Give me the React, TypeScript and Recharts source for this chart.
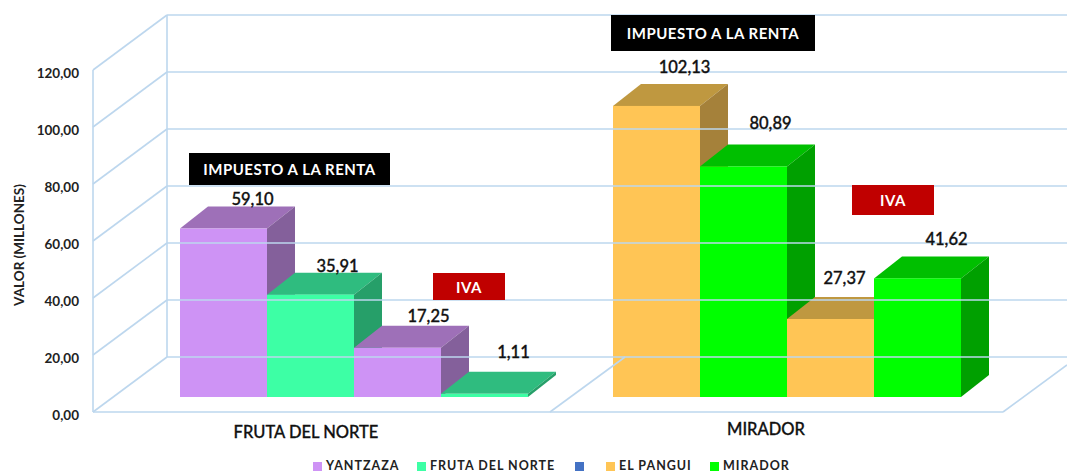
import React from "react";
import { BarChart, Bar, XAxis, YAxis, Legend, LabelList } from "recharts";

const categories = ["FRUTA DEL NORTE", "MIRADOR"];
const rentaFirst = [59.1, 102.13];
const rentaSecond = [35.91, 80.89];
const ivaFirst = [17.25, 27.37];
const ivaSecond = [1.11, 41.62];
const yTicks = [0, 20, 40, 60, 80, 100, 120];
const legendNames = ["YANTZAZA", "FRUTA DEL NORTE", "", "EL PANGUI", "MIRADOR"];
const legendColors = ["#CE93F5", "#3DFFA5", "#4472C4", "#FFC555", "#00FF00"];

const rows = categories.map((name, i) => ({
  name,
  rentaFirst: rentaFirst[i],
  rentaSecond: rentaSecond[i],
  ivaFirst: ivaFirst[i],
  ivaSecond: ivaSecond[i],
}));

const GRID = "#BDD7EE";
const W = 1067;
const H = 473;
const DX = 28;
const DY = 22;
const comma = (v: number) => v.toFixed(2).replace(".", ",");

const paints = {
  purple: { front: "#CE93F5", top: "#9E70B8", side: "#84609B" },
  aqua: { front: "#3DFFA5", top: "#2FBC7F", side: "#269F69" },
  orange: { front: "#FFC555", top: "#BF9840", side: "#A5813A" },
  green: { front: "#00FF00", top: "#00BF00", side: "#00A000" },
};
const seriesPaints = [
  [paints.purple, paints.orange],
  [paints.aqua, paints.green],
  [paints.purple, paints.orange],
  [paints.aqua, paints.green],
];
const labelNudges = [
  [[29, -30], [28, -39]],
  [[27, -29], [27, -43]],
  [[31, -32], [14, -41]],
  [[29, -42], [29, -39]],
];

const boxShape = (s: number) => (p: any) => {
  const { x, y, width, height, index } = p;
  const c = seriesPaints[s][index];
  const r = x + width;
  const b = y + height;
  return (
    <g>
      <polygon points={`${x},${y} ${x + DX},${y - DY} ${r + DX},${y - DY} ${r},${y}`} fill={c.top} />
      <polygon points={`${r},${y} ${r + DX},${y - DY} ${r + DX},${b - DY} ${r},${b}`} fill={c.side} />
      <rect x={x} y={y} width={width} height={height} fill={c.front} />
    </g>
  );
};

const valueLabel = (s: number) => (p: any) => {
  const { x, y, width, value, index } = p;
  const [nx, ny] = labelNudges[s][index];
  return (
    <text x={x + width / 2 + nx} y={y + ny} textAnchor="middle" dominantBaseline="central"
      fontFamily="Lato" fontSize={16.5} fontWeight={500} fill="#111" stroke="#111" strokeWidth={0.35}>
      {comma(value)}
    </text>
  );
};

const line = (x1: number, y1: number, x2: number, y2: number) => (
  <line x1={x1} y1={y1} x2={x2} y2={y2} stroke={GRID} strokeWidth={1.6} />
);

const wallTick = (p: any) => {
  const { y, payload } = p;
  const front = y + 15;
  const back = y - 40;
  const v = payload.value;
  return (
    <g>
      {line(167, back, W, back)}
      {line(93, front, 167, back)}
      {v === 0 && (
        <g>
          {line(93, 70, 93, front)}
          {line(167, 15, 167, back)}
          {line(93, front, 1003, front)}
          {line(550, front, 625, back)}
          {line(1003, front, 1067, front - 47)}
        </g>
      )}
      <text x={79} y={front + 3} textAnchor="end" dominantBaseline="central"
        fontFamily="Lato" fontSize={13.5} fontWeight={700} fill="#222">
        {comma(v)}
      </text>
    </g>
  );
};

const nameTick = (p: any) => {
  const { x, index, payload } = p;
  return (
    <text x={x + (index === 0 ? -48 : -21)} y={index === 0 ? 432 : 429} textAnchor="middle" dominantBaseline="central"
      fontFamily="Lato" fontSize={16.5} fontWeight={500} fill="#111" stroke="#111" strokeWidth={0.3}>
      {payload.value}
    </text>
  );
};

const legendLefts = [313, 417, 575, 606, 710];
const LegendRow = () => (
  <div style={{ position: "relative", width: W, height: 10 }}>
    {legendNames.map((n, i) => (
      <div key={i} style={{ position: "absolute", left: legendLefts[i], top: 0, display: "flex", alignItems: "center", height: 10, whiteSpace: "nowrap" }}>
        <span style={{ width: 9, height: 9, background: legendColors[i], marginRight: 4 }} />
        <span style={{ fontFamily: "Lato", fontSize: 12.5, lineHeight: "10px", fontWeight: 700, letterSpacing: 1, color: "#222" }}>{n}</span>
      </div>
    ))}
  </div>
);

const Note = ({ left, top, width, height, bg, text }: any) => (
  <div style={{ position: "absolute", left, top, width, height, background: bg, color: "#fff",
    display: "flex", alignItems: "center", justifyContent: "center",
    fontFamily: "Lato", fontSize: 15, fontWeight: 700, letterSpacing: 0.5, whiteSpace: "nowrap" }}>
    {text}
  </div>
);

const seriesKeys = ["rentaFirst", "rentaSecond", "ivaFirst", "ivaSecond"];

export default function App() {
  return (
    <div style={{ position: "absolute", left: 0, top: 0, width: W, height: H, background: "#fff", overflow: "hidden" }}>
      <BarChart width={W} height={H} data={rows} barCategoryGap={42.5} barGap={0}
        margin={{ top: 55, bottom: 36, left: 77.5, right: 63.5 }}>
        <YAxis width={60} domain={[0, 120]} ticks={yTicks} interval={0} axisLine={false} tickLine={false} tick={wallTick}
          label={{ value: "VALOR (MILLONES)", angle: -90, position: "center", dx: -88, dy: 19,
            style: { fontFamily: "Lato", fontSize: 13.5, fontWeight: 700, fill: "#222" } }} />
        <XAxis dataKey="name" height={30} axisLine={false} tickLine={false} tick={nameTick} />
        {seriesKeys.map((k, s) => (
          <Bar key={k} dataKey={k} isAnimationActive={false} shape={boxShape(s)}>
            <LabelList dataKey={k} content={valueLabel(s)} />
          </Bar>
        ))}
        <Legend content={<LegendRow />} wrapperStyle={{ left: 0, top: 461, width: W }} />
      </BarChart>
      <Note left={189} top={153} width={201} height={32} bg="#000" text="IMPUESTO A LA RENTA" />
      <Note left={611} top={15} width={204} height={36} bg="#000" text="IMPUESTO A LA RENTA" />
      <Note left={433} top={273} width={72} height={27} bg="#C00000" text="IVA" />
      <Note left={852} top={185} width={82} height={30} bg="#C00000" text="IVA" />
    </div>
  );
}
